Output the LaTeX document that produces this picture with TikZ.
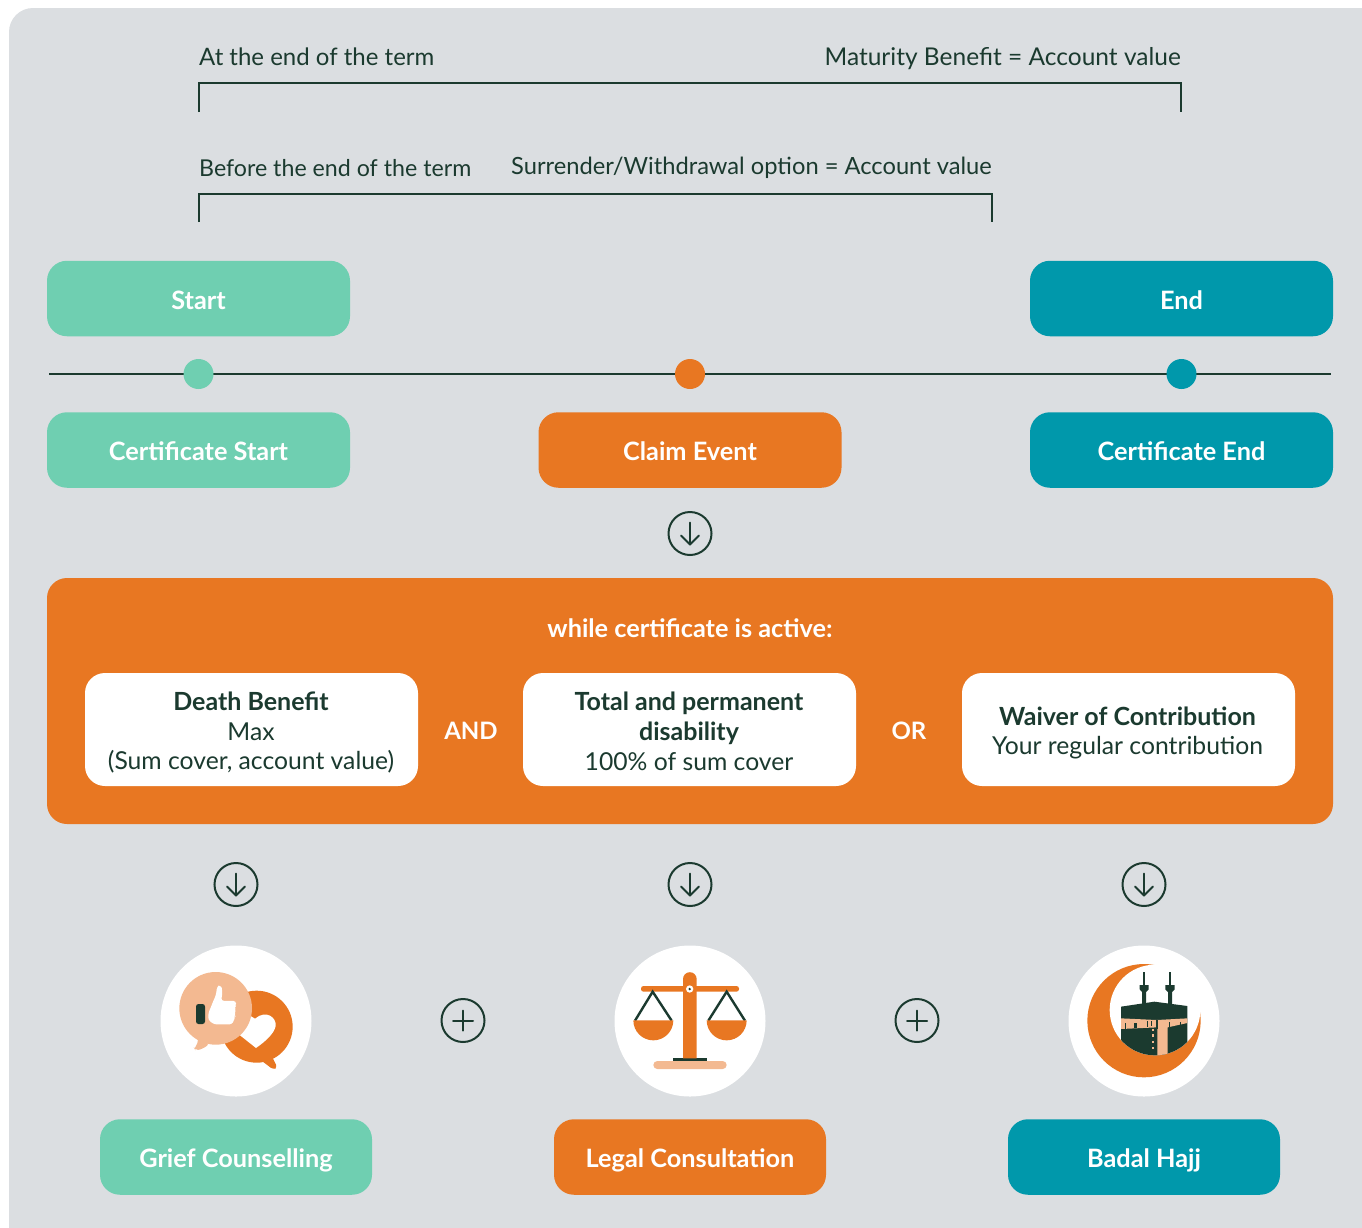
\documentclass[tikz,border=0pt]{standalone}
\usepackage{fontspec}
\setmainfont{Lato}
\definecolor{panel}{HTML}{DBDEE1}
\definecolor{mint}{HTML}{6FCFB1}
\definecolor{teal}{HTML}{0098AB}
\definecolor{orng}{HTML}{E87722}
\definecolor{ink}{HTML}{1B3A2F}
\definecolor{peach}{HTML}{F3B991}
\newcommand{\hdfont}{\fontsize{25}{29.7}\bfseries\selectfont}
\tikzset{
  lbl/.style={text=ink,font=\fontsize{#1}{30}\selectfont,inner sep=0pt,anchor=base west},
  lble/.style={lbl=#1,anchor=base east},
  tag/.style={fill=#1,rounded corners=20pt,draw=none,text=white,font=\fontsize{25.3}{30}\bfseries\selectfont,minimum height=75.5pt,inner sep=0pt,text height=21pt,text depth=0pt},
  wbox/.style={fill=white,rounded corners=20pt,draw=none,minimum width=333pt,minimum height=113pt,inner sep=0pt},
  wtxt/.style={text=ink,font=\fontsize{24.7}{29.7}\selectfont,inner sep=0pt,align=center},
  word/.style={text=white,font=\fontsize{25.3}{30}\bfseries\selectfont,inner sep=0pt},
  tick/.style={draw=ink,line width=1.5pt},
  ring/.style={circle,draw=ink,line width=2pt,minimum size=43pt,inner sep=0pt},
  dot/.style={circle,fill=#1,minimum size=30pt,inner sep=0pt},
  disc/.style={circle,fill=white,minimum size=151pt,inner sep=0pt},
  glyph/.style={draw=ink,line width=2pt,line cap=round,line join=round},
  icon/.style={x=0.33333pt,y=-0.33333pt},
}
\newcommand{\dnarrow}[1]{\draw[glyph] ([yshift=11pt]#1.center) -- ([yshift=-11pt]#1.center);
  \draw[glyph] ([xshift=-9pt,yshift=-2pt]#1.center) -- ([yshift=-11pt]#1.center) -- ([xshift=9pt,yshift=-2pt]#1.center);}
\newcommand{\plusmark}[1]{\draw[glyph] ([yshift=-10pt]#1.center) -- ([yshift=10pt]#1.center);
  \draw[glyph] ([xshift=-10pt]#1.center) -- ([xshift=10pt]#1.center);}
\begin{document}
\begin{tikzpicture}[x=1pt,y=-1pt]
\useasboundingbox (0,0) rectangle (1362,1227);
\clip (0,0) rectangle (1362,1227);
\fill[white] (0,0) rectangle (1362,1227);
\fill[panel,rounded corners=24pt] (9,8) rectangle (1420,1290);

% brackets
\node[lbl=24] (t1) at (199,65.5) {At the end of the term};
\node[lble=24.5] (t2) at (1181,65) {Maturity Benefit = Account value};
\node[lbl=23.2] (t3) at (199,176) {Before the end of the term};
\node[lble=23.7] (t4) at (992,174.5) {Surrender/Withdrawal option = Account value};
\coordinate (b1a) at (199,112); \coordinate (b1b) at (199,83); \coordinate (b1c) at (1181,83); \coordinate (b1d) at (1181,112);
\coordinate (b2a) at (199,222); \coordinate (b2b) at (199,194); \coordinate (b2c) at (992,194); \coordinate (b2d) at (992,222);
\draw[tick] (b1a) -- (b1b) -- (b1c) -- (b1d);
\draw[tick] (b2a) -- (b2b) -- (b2c) -- (b2d);

% timeline
\node[tag=mint,minimum width=303pt] (start) at (198.5,298.5) {Start};
\node[tag=teal,minimum width=303pt] (end) at (1181.5,298.5) {End};
\coordinate (tl) at (49,374); \coordinate (tr) at (1331,374);
\draw[ink,line width=2.3pt] (tl) -- (tr);
\node[dot=mint] (d1) at (198.5,374) {};
\node[dot=orng] (d2) at (690,374) {};
\node[dot=teal] (d3) at (1181.5,374) {};
\node[tag=mint,minimum width=303pt] (cs) at (198.5,450) {Certificate Start};
\node[tag=orng,minimum width=303pt] (ce) at (690,450) {Claim Event};
\node[tag=teal,minimum width=303pt] (cn) at (1181.5,450) {Certificate End};
\node[ring] (a0) at (690,533.5) {};
\dnarrow{a0}

% panel
\fill[orng,rounded corners=20pt] (47,578) rectangle (1333,824);
\node[word] (act) at (690,628) {while certificate is active:};
\node[wbox] (w1) at (251.5,729.5) {};
\node[wbox] (w2) at (689.5,729.5) {};
\node[wbox] (w3) at (1128.5,729.5) {};
\node[wtxt] (w1t) at (251,732.5) {{\hdfont Death Benefit}\\Max\\(Sum cover, account value)};
\node[wtxt] (w2t) at (689,731.5) {{\hdfont Total and permanent}\\{\hdfont disability}\\100\% of sum cover};
\node[wtxt] (w3t) at (1127.5,733) {{\hdfont Waiver of Contribution}\\Your regular contribution};
\node[word,font=\fontsize{24}{30}\bfseries\selectfont] (and) at (471,731) {AND};
\node[word,font=\fontsize{24}{30}\bfseries\selectfont] (or) at (909,731) {OR};

\node[ring] (a1) at (236,884.5) {}; \dnarrow{a1}
\node[ring] (a2) at (690,884.5) {}; \dnarrow{a2}
\node[ring] (a3) at (1144,884.5) {}; \dnarrow{a3}
\node[ring] (p1) at (463,1020.5) {}; \plusmark{p1}
\node[ring] (p2) at (917,1020.5) {}; \plusmark{p2}

\node[disc] (i1) at (236,1021) {};
\node[disc] (i2) at (690,1021) {};
\node[disc] (i3) at (1144,1021) {};

% icon 1
\begin{scope}[shift={(140,930)},icon]
  \fill[orng] (350,290) circle[radius=108];
  \fill[orng,rounded corners=3pt] (362,390) -- (395,378) -- (412,412) -- (400,419) -- cycle;
  \fill[white] (348,354) .. controls (375,335) and (402,312) .. (407,288) .. controls (410,262) and (378,238) .. (345,266) -- (310,245) -- (280,300) -- cycle;
  \fill[peach] (227,235) circle[radius=109];
  \fill[peach,rounded corners=3pt] (172,320) -- (208,342) .. controls (195,352) and (180,360) .. (165,359) -- (162,353) .. controls (170,345) and (175,335) .. (172,320) -- cycle;
  \fill[white,rounded corners=2.5pt] (205,250) -- (222,208) .. controls (228,195) and (230,180) .. (231,170) -- (240,165) .. controls (247,175) and (247,195) .. (243,212) -- (288,213) -- (288,227) -- (283,232) -- (288,242) -- (283,255) -- (286,260) -- (281,272) -- (276,283) -- (222,283) -- (205,270) -- cycle;
  \fill[ink,rounded corners=2.5pt] (168,222) rectangle (195,282);
\end{scope}

% icon 2
\begin{scope}[shift={(600,930)},icon]
  \fill[peach,rounded corners=4pt] (160,393) rectangle (380,417);
  \fill[ink] (220,384) rectangle (320,393);
  \fill[orng] (249,385) -- (249,147) arc[start angle=180,end angle=360,radius=20.5] -- (290,385) -- cycle;
  \fill[orng,rounded corners=2.5pt] (123,168) rectangle (417,185);
  \draw[ink,line width=2.4pt] (105,272) -- (158,185) -- (215,272);
  \draw[ink,line width=2.4pt] (325,272) -- (380,185) -- (435,272);
  \fill[orng] (100,271) arc[start angle=180,end angle=0,radius=60] -- cycle;
  \fill[orng] (320,271) arc[start angle=180,end angle=0,radius=60] -- cycle;
  \fill[white] (269,177) circle[radius=11];
  \fill[ink] (269,177) circle[radius=4];
\end{scope}

% icon 3
\begin{scope}[shift={(1055,930)},icon]
  \fill[orng] (267,272) circle[radius=170];
  \fill[white] (300,240) circle[radius=136];
  \begin{scope}
    \clip (300,240) circle[radius=136];
    \fill[ink] (264,127) rectangle (270,165);
    \fill[ink] (342,127) rectangle (348,165);
    \fill[ink] (254,165) -- (281,165) -- (281,178) -- (273,186) -- (273,225) -- (261,225) -- (261,186) -- (254,178) -- cycle;
    \fill[ink] (331,165) -- (359,165) -- (359,178) -- (351,186) -- (351,225) -- (339,225) -- (339,186) -- (331,178) -- cycle;
    \fill[ink] (198,230) -- (298,215) -- (397,228) -- (397,400) -- (198,400) -- cycle;
    \fill[peach] (198,265) -- (305,270) -- (397,265) -- (397,279) -- (338,292) -- (338,400) -- (307,400) -- (307,292) -- (198,297) -- cycle;
    \fill[ink] (210,280) rectangle (213,296);
    \fill[ink] (237,278) rectangle (247,294);
    \fill[ink] (275,273) rectangle (279,290);
    \fill[ink] (288,272) rectangle (291,288);
    \fill[ink] (304,270) rectangle (308,296);
    \fill[ink] (342,276) rectangle (346,292);
    \fill[ink] (375,276) rectangle (378,288);
    \fill[peach] (291,296) rectangle (297,303);
    \fill[peach] (291,313) rectangle (297,320);
    \fill[peach] (291,333) rectangle (297,340);
    \fill[peach] (291,350) rectangle (297,357);
  \end{scope}
\end{scope}

\node[tag=mint,minimum width=272pt] (g) at (236,1157) {Grief Counselling};
\node[tag=orng,minimum width=272pt] (l) at (690,1157) {Legal Consultation};
\node[tag=teal,minimum width=272pt] (h) at (1144,1157) {Badal Hajj};
\end{tikzpicture}
\end{document}
